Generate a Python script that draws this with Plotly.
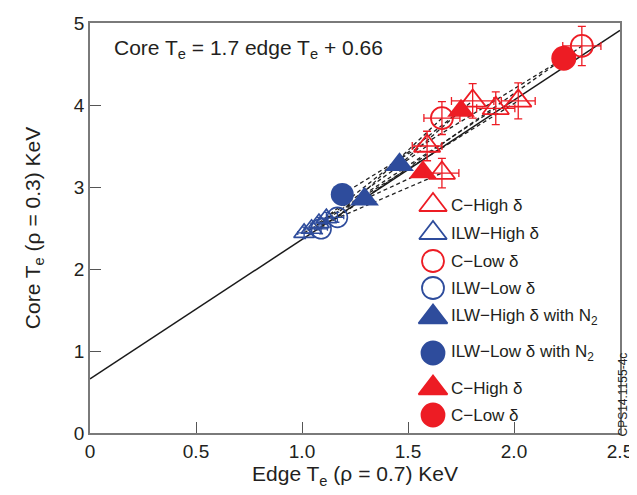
import plotly.graph_objects as go

RED = "#ED1C24"
BLUE = "#2E4C9C"
FONT = "Liberation Sans, Arial, Helvetica, sans-serif"

# ---- data (Edge Te, Core Te in keV) ----
# C - High delta (open red triangles)
c_high_x = [1.59, 1.66, 1.805, 1.914, 2.02]
c_high_y = [3.50, 3.17, 4.05, 3.96, 4.05]
c_high_ex = [0.07, 0.08, 0.10, 0.09, 0.08]
c_high_ey = [0.18, 0.18, 0.21, 0.20, 0.22]

# ILW - High delta (open blue triangles)
ilw_high_x = [1.01, 1.045, 1.08, 1.115]
ilw_high_y = [2.44, 2.49, 2.56, 2.62]
ilw_high_ex = [0.03, 0.03, 0.03, 0.03]
ilw_high_ey = [0.07, 0.07, 0.07, 0.07]

# C - Low delta (open red circles)
c_low_x = [1.66, 2.32]
c_low_y = [3.84, 4.72]
c_low_ex = [0.085, 0.09]
c_low_ey = [0.20, 0.24]

# ILW - Low delta (open blue circles)
ilw_low_x = [1.09, 1.167]
ilw_low_y = [2.49, 2.63]
ilw_low_ex = [0.03, 0.03]
ilw_low_ey = [0.06, 0.06]

# ILW - High delta with N2 (filled blue triangles)
ilw_high_n2_x = [1.295, 1.46]
ilw_high_n2_y = [2.85, 3.27]

# ILW - Low delta with N2 (filled blue circle)
ilw_low_n2_x = [1.19]
ilw_low_n2_y = [2.91]

# C - High delta (filled red triangles)
c_high_f_x = [1.57, 1.75]
c_high_f_y = [3.18, 3.93]

# C - Low delta (filled red circle)
c_low_f_x = [2.235]
c_low_f_y = [4.57]

# dashed pair connections: (x_ILW, y_ILW) -> (x_C, y_C)
pair_x0 = [1.01, 1.045, 1.08, 1.115, 1.09, 1.167, 1.295, 1.19, 1.46, 1.03]
pair_y0 = [2.44, 2.49, 2.56, 2.62, 2.49, 2.63, 2.85, 2.91, 3.27, 2.47]
pair_x1 = [2.02, 1.914, 1.805, 1.59, 2.32, 1.66, 1.57, 2.235, 1.75, 1.66]
pair_y1 = [4.05, 3.96, 4.05, 3.50, 4.72, 3.84, 3.18, 4.57, 3.93, 3.17]

# fit: Core Te = 1.7 edge Te + 0.66
fit_slope = 1.7
fit_icpt = 0.66
fit_x = [0.0, 2.5]
fit_y = [fit_slope * v + fit_icpt for v in fit_x]

x_ticks = [0, 0.5, 1.0, 1.5, 2.0, 2.5]
x_ticklabels = ["0", "0.5", "1.0", "1.5", "2.0", "2.5"]
y_ticks = [0, 1, 2, 3, 4, 5]

legend_labels = ["C\u2212High \u03b4", "ILW\u2212High \u03b4", "C\u2212Low \u03b4", "ILW\u2212Low \u03b4",
                 "ILW\u2212High \u03b4 with N<sub>2</sub>", "ILW\u2212Low \u03b4 with N<sub>2</sub>",
                 "C\u2212High \u03b4", "C\u2212Low \u03b4"]
legend_symbols = ["triangle-up-open", "triangle-up-open", "circle-open", "circle-open",
                  "triangle-up", "circle", "triangle-up", "circle"]
legend_colors = [RED, BLUE, RED, BLUE, BLUE, BLUE, RED, RED]
legend_sizes = [24, 24, 22, 22, 25, 23, 25, 23]
# legend rows (pixel rows within the plot window)
legend_rows = [205, 233, 261, 288, 317, 353, 388, 415]
legend_sym_x = 433
legend_txt_x = 449

fig = go.Figure()

# dashed connections
for i in range(len(pair_x0)):
    fig.add_trace(go.Scatter(x=[pair_x0[i], pair_x1[i]], y=[pair_y0[i], pair_y1[i]], mode="lines",
                             line=dict(color="#222222", width=1.3, dash="4px,3px"),
                             hoverinfo="skip", showlegend=False))

# fit line
fig.add_trace(go.Scatter(x=fit_x, y=fit_y, mode="lines", line=dict(color="#1a1a1a", width=1.5),
                         showlegend=False, hoverinfo="skip"))


def err(arr, col, w=4):
    return dict(type="data", array=arr, visible=True, color=col, thickness=1.3, width=w)


fig.add_trace(go.Scatter(x=ilw_high_x, y=ilw_high_y, mode="markers",
                         marker=dict(symbol="triangle-up-open", size=18, color=BLUE, line=dict(width=1.6)),
                         error_x=err(ilw_high_ex, BLUE, 2), error_y=err(ilw_high_ey, BLUE, 2), showlegend=False))
fig.add_trace(go.Scatter(x=ilw_low_x, y=ilw_low_y, mode="markers",
                         marker=dict(symbol="circle-open", size=20, color=BLUE, line=dict(width=1.6)),
                         error_x=err(ilw_low_ex, BLUE, 2), error_y=err(ilw_low_ey, BLUE, 2), showlegend=False))
fig.add_trace(go.Scatter(x=ilw_low_n2_x, y=ilw_low_n2_y, mode="markers",
                         marker=dict(symbol="circle", size=23, color=BLUE), showlegend=False))
fig.add_trace(go.Scatter(x=ilw_high_n2_x, y=ilw_high_n2_y, mode="markers",
                         marker=dict(symbol="triangle-up", size=25, color=BLUE), showlegend=False))
fig.add_trace(go.Scatter(x=c_high_f_x, y=c_high_f_y, mode="markers",
                         marker=dict(symbol="triangle-up", size=24, color=RED), showlegend=False))
fig.add_trace(go.Scatter(x=c_low_f_x, y=c_low_f_y, mode="markers",
                         marker=dict(symbol="circle", size=25, color=RED), showlegend=False))
fig.add_trace(go.Scatter(x=c_high_x, y=c_high_y, mode="markers",
                         marker=dict(symbol="triangle-up-open", size=23, color=RED, line=dict(width=1.8)),
                         error_x=err(c_high_ex, RED), error_y=err(c_high_ey, RED), showlegend=False))
fig.add_trace(go.Scatter(x=c_low_x, y=c_low_y, mode="markers",
                         marker=dict(symbol="circle-open", size=22, color=RED, line=dict(width=1.8)),
                         error_x=err(c_low_ex, RED), error_y=err(c_low_ey, RED), showlegend=False))

# custom legend on an overlay axis measured in window pixels
for sym, col, sz, row, lbl in zip(legend_symbols, legend_colors, legend_sizes, legend_rows, legend_labels):
    fig.add_trace(go.Scatter(x=[legend_sym_x], y=[row], mode="markers", xaxis="x2", yaxis="y2",
                             marker=dict(symbol=sym, size=sz, color=col, opacity=1,
                                         line=dict(width=1.8, color=col)),
                             showlegend=False, hoverinfo="skip"))
    fig.add_annotation(x=legend_txt_x, y=row, xref="x2", yref="y2", text=lbl, showarrow=False,
                       xanchor="left", yanchor="middle", font=dict(size=17, color="#231f20", family=FONT))

fig.add_annotation(x=112, y=49, xref="x2", yref="y2", xanchor="left", yanchor="middle",
                   text="Core T<sub>e</sub> = 1.7 edge T<sub>e</sub> + 0.66", showarrow=False,
                   font=dict(size=21, color="#231f20", family=FONT))
fig.add_annotation(x=1.0065, y=0.095, xref="paper", yref="paper", text="CPS14.1155-4c", textangle=-90,
                   xanchor="center", yanchor="middle",
                   showarrow=False, font=dict(size=12, color="#231f20", family=FONT))

axis_common = dict(showgrid=False, zeroline=False, showline=True, linecolor="#7a7a7a", linewidth=1.5,
                   mirror=True, ticks="inside", ticklen=11, tickwidth=1.2, tickcolor="#555555",
                   automargin=False,
                   tickfont=dict(size=19, color="#231f20", family=FONT))

# the page body adds an 8 px offset, so the figure is 8 px smaller than the window
fig.update_layout(
    width=629, height=487,
    margin=dict(l=82, r=17, t=15, b=62),
    paper_bgcolor="white", plot_bgcolor="white",
    font=dict(family=FONT, color="#231f20"),
    xaxis=dict(range=[0, 2.5], tickvals=x_ticks, ticktext=x_ticklabels,
               title=dict(text="Edge T<sub>e</sub> (\u03c1 = 0.7) KeV", font=dict(size=21), standoff=6),
               **axis_common),
    yaxis=dict(range=[0, 5], tickvals=y_ticks,
               title=dict(text="Core T<sub>e</sub> (\u03c1 = 0.3) KeV", font=dict(size=21), standoff=28),
               **axis_common),
    xaxis2=dict(range=[90, 620], domain=[0, 1], overlaying="x", visible=False, fixedrange=True),
    yaxis2=dict(range=[433, 23], domain=[0, 1], overlaying="y", visible=False, fixedrange=True),
    showlegend=False,
)

fig.write_html("out.html")
